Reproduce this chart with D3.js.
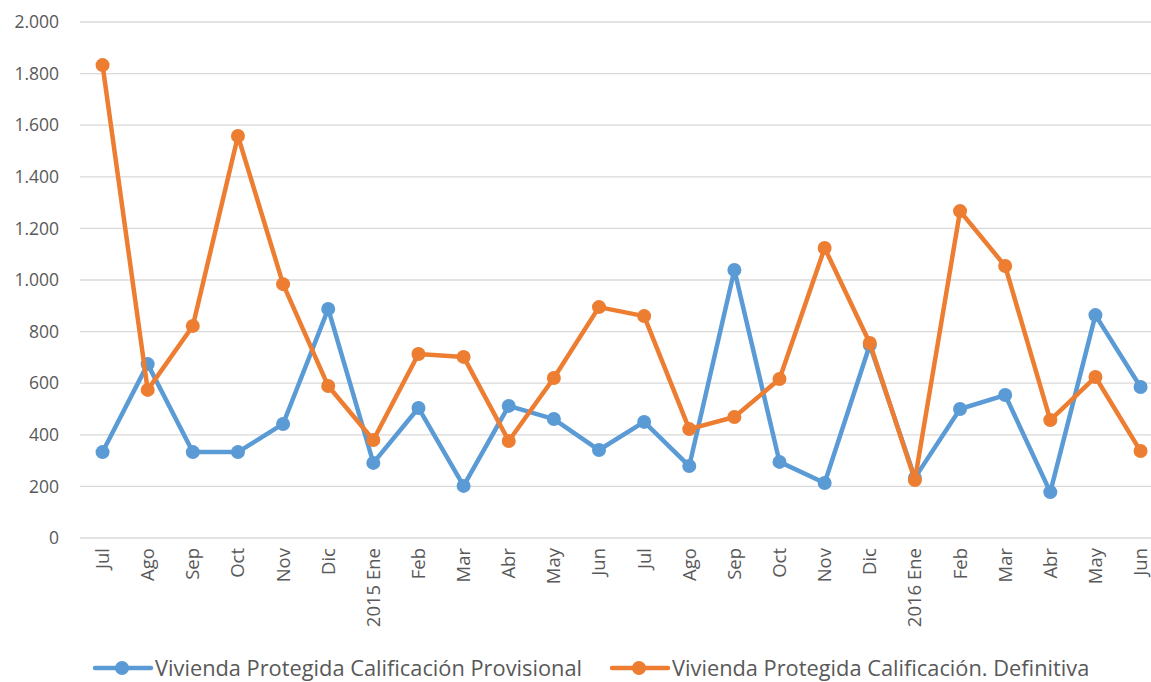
<!DOCTYPE html>
<html><head><meta charset="utf-8">
<script src="https://cdn.jsdelivr.net/npm/d3@7/dist/d3.min.js"></script>
<style>body{margin:0;background:#fff}svg{display:block}</style>
</head><body>
<svg id="c" width="1151" height="682"></svg>
<script>
const categories = ["Jul","Ago","Sep","Oct","Nov","Dic","2015 Ene","Feb","Mar","Abr","May","Jun","Jul","Ago","Sep","Oct","Nov","Dic","2016 Ene","Feb","Mar","Abr","May","Jun"];
const provisional = [333,674,333,333,442,888,291,504,202,512,461,341,450,279,1039,295,213,748,233,500,554,178,864,585];
const definitiva = [1833,574,822,1558,984,589,380,713,702,376,620,895,860,422,469,616,1124,756,225,1267,1054,457,624,337];
const yTicks = [0,200,400,600,800,1000,1200,1400,1600,1800,2000];
const seriesNames = ["Vivienda Protegida Calificación Provisional","Vivienda Protegida Calificación. Definitiva"];
const colors = ["#5b9bd5","#ed7d31"];

(function(){
const svg = d3.select("#c");
const font = "'Open Sans', Lato, sans-serif";
const plotLeft = 80, plotTop = 22, plotBottom = 538;
const idx = d3.range(categories.length);
const x = d3.scaleBand().domain(idx).range([plotLeft, plotLeft + 24*45.13]);
const y = d3.scaleLinear().domain([0,2000]).range([plotBottom, plotTop]);
const fmt = v => d3.format(",")(v).replace(/,/g,".");

svg.append("g").selectAll("line").data(yTicks).join("line")
  .attr("x1", plotLeft).attr("x2", 1151)
  .attr("y1", d => y(d)).attr("y2", d => y(d))
  .attr("stroke", "#d9d9d9").attr("stroke-width", 1.3);

const ya = svg.append("g").attr("transform", `translate(${plotLeft-21},0)`)
  .call(d3.axisLeft(y).tickValues(yTicks).tickSize(0).tickPadding(0).tickFormat(fmt));
ya.select(".domain").remove();
ya.selectAll("text").attr("font-family", font).attr("font-size", 17.5).attr("fill", "#595959");

const xa = svg.append("g").attr("transform", `translate(0,${plotBottom})`)
  .call(d3.axisBottom(x).tickSize(0).tickFormat(i => categories[i]));
xa.select(".domain").remove();
xa.selectAll("text").attr("font-family", font).attr("font-size", 18.5).attr("fill", "#595959")
  .attr("text-anchor", "end").attr("transform", "rotate(-90)")
  .attr("x", -10).attr("y", 0).attr("dy", "0.35em");

const cx = i => x(i) + x.bandwidth()/2;
const line = d3.line().x((d,i) => cx(i)).y(d => y(d));
[provisional, definitiva].forEach((s, k) => {
  const g = svg.append("g");
  g.append("path").datum(s).attr("d", line).attr("fill", "none")
    .attr("stroke", colors[k]).attr("stroke-width", 4.5).attr("stroke-linejoin", "round").attr("stroke-linecap","round");
  g.selectAll("circle").data(s).join("circle")
    .attr("cx", (d,i) => cx(i)).attr("cy", d => y(d)).attr("r", 7).attr("fill", colors[k]);
});

const legX = [95, 612];
seriesNames.forEach((n, k) => {
  const g = svg.append("g").attr("transform", `translate(${legX[k]},668)`);
  g.append("line").attr("x1", 0).attr("x2", 56).attr("stroke", colors[k]).attr("stroke-width", 4.5).attr("stroke-linecap","round");
  g.append("circle").attr("cx", 27).attr("r", 7).attr("fill", colors[k]);
  g.append("text").attr("x", 60).attr("dy", "0.35em").attr("font-family", font).attr("font-size", 21.8)
    .attr("fill", "#595959").text(n);
});
})();
</script>
</body></html>
